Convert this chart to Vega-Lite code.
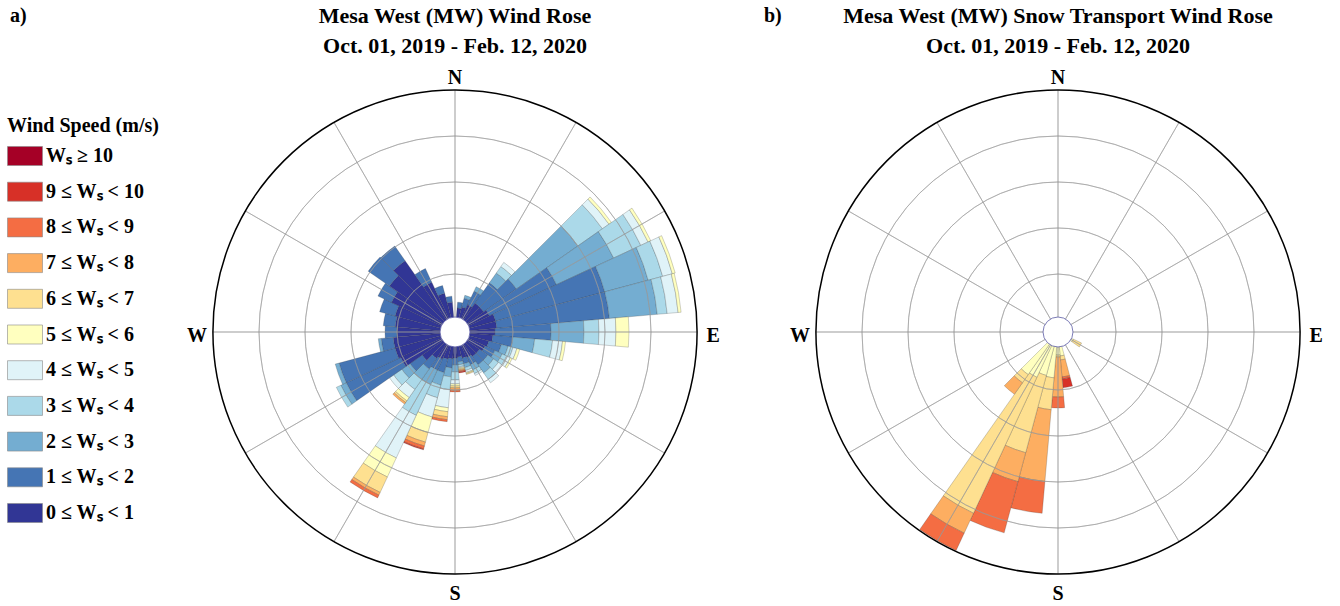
{
  "$schema": "https://vega.github.io/schema/vega-lite/v6.json",
  "padding": {"left": 7, "top": 5, "right": 5, "bottom": 5},
  "config": {
    "view": {"stroke": null},
    "font": "Liberation Serif",
    "title": {"font": "Liberation Serif", "fontSize": 22, "fontWeight": "bold", "color": "#000", "lineHeight": 30}
  },
  "datasets": {
    "rose": [
      {"d":0,"c":0,"f":0.304},{"d":0,"c":1,"f":0.109},
      {"d":10,"c":0,"f":0.261},{"d":10,"c":1,"f":0.130},
      {"d":20,"c":0,"f":0.304},{"d":20,"c":1,"f":0.196},{"d":20,"c":2,"f":0.065},
      {"d":30,"c":0,"f":0.391},{"d":30,"c":1,"f":0.326},{"d":30,"c":2,"f":0.109},
      {"d":40,"c":0,"f":0.5},{"d":40,"c":1,"f":0.543},{"d":40,"c":2,"f":0.261},{"d":40,"c":3,"f":0.174},{"d":40,"c":4,"f":0.109},
      {"d":50,"c":0,"f":0.5},{"d":50,"c":1,"f":0.87},{"d":50,"c":2,"f":1.63},{"d":50,"c":3,"f":0.652},{"d":50,"c":4,"f":0.174},{"d":50,"c":5,"f":0.065},
      {"d":60,"c":0,"f":0.565},{"d":60,"c":1,"f":1.609},{"d":60,"c":2,"f":1.37},{"d":60,"c":3,"f":0.652},{"d":60,"c":4,"f":0.174},{"d":60,"c":5,"f":0.065},
      {"d":70,"c":0,"f":0.652},{"d":70,"c":1,"f":2.457},{"d":70,"c":2,"f":0.978},{"d":70,"c":3,"f":0.326},{"d":70,"c":4,"f":0.217},{"d":70,"c":5,"f":0.065},
      {"d":80,"c":0,"f":0.652},{"d":80,"c":1,"f":2.457},{"d":80,"c":2,"f":1.043},{"d":80,"c":3,"f":0.217},{"d":80,"c":4,"f":0.239},{"d":80,"c":5,"f":0.065},
      {"d":90,"c":0,"f":0.609},{"d":90,"c":1,"f":1.217},{"d":90,"c":2,"f":0.717},{"d":90,"c":3,"f":0.326},{"d":90,"c":4,"f":0.37},{"d":90,"c":5,"f":0.283},
      {"d":100,"c":0,"f":0.565},{"d":100,"c":1,"f":0.435},{"d":100,"c":2,"f":0.478},{"d":100,"c":3,"f":0.391},{"d":100,"c":4,"f":0.217},{"d":100,"c":5,"f":0.065},
      {"d":110,"c":0,"f":0.5},{"d":110,"c":1,"f":0.283},{"d":110,"c":2,"f":0.152},{"d":110,"c":3,"f":0.109},{"d":110,"c":4,"f":0.087},{"d":110,"c":5,"f":0.065},
      {"d":120,"c":0,"f":0.457},{"d":120,"c":1,"f":0.239},{"d":120,"c":2,"f":0.174},{"d":120,"c":3,"f":0.109},{"d":120,"c":4,"f":0.087},{"d":120,"c":5,"f":0.043},
      {"d":130,"c":0,"f":0.391},{"d":130,"c":1,"f":0.217},{"d":130,"c":2,"f":0.152},{"d":130,"c":3,"f":0.13},{"d":130,"c":4,"f":0.087},
      {"d":140,"c":0,"f":0.391},{"d":140,"c":1,"f":0.217},{"d":140,"c":2,"f":0.217},{"d":140,"c":3,"f":0.174},{"d":140,"c":4,"f":0.087},
      {"d":150,"c":0,"f":0.348},{"d":150,"c":1,"f":0.174},{"d":150,"c":2,"f":0.13},{"d":150,"c":3,"f":0.087},{"d":150,"c":4,"f":0.043},
      {"d":160,"c":0,"f":0.326},{"d":160,"c":1,"f":0.13},{"d":160,"c":2,"f":0.087},{"d":160,"c":3,"f":0.065},{"d":160,"c":4,"f":0.043},{"d":160,"c":5,"f":0.022},{"d":160,"c":6,"f":0.022},
      {"d":170,"c":0,"f":0.283},{"d":170,"c":1,"f":0.109},{"d":170,"c":2,"f":0.065},{"d":170,"c":3,"f":0.043},{"d":170,"c":4,"f":0.022},{"d":170,"c":5,"f":0.022},{"d":170,"c":6,"f":0.022},{"d":170,"c":7,"f":0.022},{"d":170,"c":8,"f":0.022},{"d":170,"c":9,"f":0.022},
      {"d":180,"c":0,"f":0.304},{"d":180,"c":1,"f":0.152},{"d":180,"c":2,"f":0.152},{"d":180,"c":3,"f":0.174},{"d":180,"c":4,"f":0.087},{"d":180,"c":5,"f":0.043},{"d":180,"c":6,"f":0.043},{"d":180,"c":7,"f":0.054},{"d":180,"c":8,"f":0.033},
      {"d":190,"c":0,"f":0.326},{"d":190,"c":1,"f":0.196},{"d":190,"c":2,"f":0.196},{"d":190,"c":3,"f":0.283},{"d":190,"c":4,"f":0.391},{"d":190,"c":5,"f":0.087},{"d":190,"c":6,"f":0.109},{"d":190,"c":7,"f":0.065},{"d":190,"c":8,"f":0.043},
      {"d":200,"c":0,"f":0.348},{"d":200,"c":1,"f":0.304},{"d":200,"c":2,"f":0.283},{"d":200,"c":3,"f":0.283},{"d":200,"c":4,"f":0.435},{"d":200,"c":5,"f":0.348},{"d":200,"c":6,"f":0.217},{"d":200,"c":7,"f":0.087},{"d":200,"c":8,"f":0.065},{"d":200,"c":9,"f":0.022},
      {"d":210,"c":0,"f":0.391},{"d":210,"c":1,"f":0.261},{"d":210,"c":2,"f":0.348},{"d":210,"c":3,"f":0.739},{"d":210,"c":4,"f":1.022},{"d":210,"c":5,"f":0.457},{"d":210,"c":6,"f":0.37},{"d":210,"c":7,"f":0.065},{"d":210,"c":8,"f":0.065},
      {"d":220,"c":0,"f":0.435},{"d":220,"c":1,"f":0.283},{"d":220,"c":2,"f":0.283},{"d":220,"c":3,"f":0.261},{"d":220,"c":4,"f":0.217},{"d":220,"c":5,"f":0.087},{"d":220,"c":6,"f":0.043},{"d":220,"c":7,"f":0.043},
      {"d":230,"c":0,"f":0.609},{"d":230,"c":1,"f":0.326},{"d":230,"c":2,"f":0.217},{"d":230,"c":3,"f":0.217},{"d":230,"c":4,"f":0.109},
      {"d":240,"c":0,"f":1.043},{"d":240,"c":1,"f":1.304},{"d":240,"c":2,"f":0.13},{"d":240,"c":3,"f":0.109},
      {"d":250,"c":0,"f":1.087},{"d":250,"c":1,"f":1.261},{"d":250,"c":2,"f":0.087},
      {"d":260,"c":0,"f":1.087},{"d":260,"c":1,"f":0.261},{"d":260,"c":2,"f":0.065},
      {"d":270,"c":0,"f":1.0},{"d":270,"c":1,"f":0.261},
      {"d":280,"c":0,"f":1.043},{"d":280,"c":1,"f":0.261},
      {"d":290,"c":0,"f":1.087},{"d":290,"c":1,"f":0.348},
      {"d":300,"c":0,"f":1.261},{"d":300,"c":1,"f":0.326},
      {"d":310,"c":0,"f":1.478},{"d":310,"c":1,"f":0.565},
      {"d":320,"c":0,"f":1.63},{"d":320,"c":1,"f":0.391},
      {"d":330,"c":0,"f":0.935},{"d":330,"c":1,"f":0.326},
      {"d":340,"c":0,"f":0.609},{"d":340,"c":1,"f":0.174},
      {"d":350,"c":0,"f":0.391},{"d":350,"c":1,"f":0.13}
    ],
    "snow": [
      {"d":90,"c":5,"f":0.304},
      {"d":120,"c":5,"f":0.109},{"d":120,"c":6,"f":0.196},
      {"d":170,"c":5,"f":0.261},{"d":170,"c":6,"f":0.087},{"d":170,"c":7,"f":0.37},{"d":170,"c":8,"f":0.043},{"d":170,"c":9,"f":0.196},
      {"d":180,"c":5,"f":0.239},{"d":180,"c":6,"f":0.043},{"d":180,"c":7,"f":0.87},{"d":180,"c":8,"f":0.239},
      {"d":190,"c":5,"f":0.739},{"d":190,"c":6,"f":0.696},{"d":190,"c":7,"f":1.565},{"d":190,"c":8,"f":0.696},
      {"d":200,"c":5,"f":0.717},{"d":200,"c":6,"f":1.739},{"d":200,"c":7,"f":0.652},{"d":200,"c":8,"f":1.152},
      {"d":210,"c":5,"f":0.826},{"d":210,"c":6,"f":3.261},{"d":210,"c":7,"f":0.478},{"d":210,"c":8,"f":0.413},
      {"d":220,"c":5,"f":0.87},{"d":220,"c":6,"f":0.217},{"d":220,"c":7,"f":0.304}
    ],
    "rings": [{"ring":1},{"ring":2},{"ring":3},{"ring":4}],
    "spokes": [{"ang":0},{"ang":30},{"ang":60},{"ang":90},{"ang":120},{"ang":150},{"ang":180},{"ang":210},{"ang":240},{"ang":270},{"ang":300},{"ang":330}],
    "labels": [{"lab":"N","ang":0},{"lab":"E","ang":90},{"lab":"S","ang":180},{"lab":"W","ang":270}]
  },
  "resolve": {"scale": {"color": "independent"}, "legend": {"color": "independent"}},
  "spacing": 28,
  "hconcat": [
    {
      "title": {"text": "a)", "anchor": "start", "fontSize": 20, "offset": -21, "dx": 3},
      "hconcat": [
        {
          "width": 560,
          "height": 540,
          "title": {"text": ["Mesa West (MW) Wind Rose", "Oct. 01, 2019 - Feb. 12, 2020"], "frame": "group", "anchor": "middle", "offset": 4},
          "layer": [
            {
              "data": {"name": "rose"},
              "transform": [
                {"bin": {"step": 10, "anchor": -5}, "field": "d", "as": ["d0", "d1"]},
                {"stack": "f", "groupby": ["d"], "sort": [{"field": "c", "order": "ascending"}], "as": ["r0", "r1"]}
              ],
              "mark": {"type": "arc", "stroke": "#333", "strokeWidth": 0.5, "strokeOpacity": 0.45},
              "encoding": {
                "theta": {"field": "d0", "type": "quantitative", "stack": null, "scale": {"type": "linear", "domain": [0, 360], "range": [0, 6.283185307179586]}},
                "theta2": {"field": "d1"},
                "radius": {"field": "r1", "type": "quantitative", "stack": null, "scale": {"type": "linear", "domain": [0, 5], "range": [12, 242], "zero": false}},
                "radius2": {"field": "r0"},
                "color": {
                  "field": "c", "type": "nominal",
                  "scale": {"domain": [10, 9, 8, 7, 6, 5, 4, 3, 2, 1, 0], "range": ["#a50026", "#d73027", "#f46d43", "#fdae61", "#fee090", "#ffffbf", "#e0f3f8", "#abd9e9", "#74add1", "#4575b4", "#313695"]},
                  "legend": {
                    "orient": "none", "legendX": -168, "legendY": 54,
                    "title": "Wind Speed (m/s)",
                    "titleFont": "Liberation Serif", "titleFontSize": 20, "titleFontWeight": "bold", "titleColor": "#000", "titlePadding": 2,
                    "labelFont": "Liberation Serif", "labelFontSize": 20, "labelFontWeight": "bold", "labelColor": "#000", "labelLimit": 300, "labelOffset": 3,
                    "labelExpr": "datum.value == 10 ? 'Wₛ ≥ 10' : datum.value + ' ≤ Wₛ < ' + (datum.value + 1)",
                    "symbolType": "M-1,-0.543H1V0.543H-1Z", "symbolSize": 1225, "symbolStrokeColor": "#888", "symbolStrokeWidth": 0.6,
                    "rowPadding": 6.7, "padding": 0
                  }
                }
              }
            },
            {
              "data": {"name": "rings"},
              "mark": {"type": "arc", "filled": false, "stroke": "#999", "strokeWidth": 0.8, "strokeOpacity": 0.7},
              "encoding": {
                "theta": {"datum": 0}, "theta2": {"datum": 360},
                "radius": {"field": "ring", "type": "quantitative"}, "radius2": {"field": "ring"}
              }
            },
            {
              "data": {"name": "spokes"},
              "mark": {"type": "arc", "filled": false, "stroke": "#999", "strokeWidth": 0.8, "strokeOpacity": 0.7},
              "encoding": {
                "theta": {"field": "ang", "type": "quantitative"}, "theta2": {"field": "ang"},
                "radius": {"datum": 5}, "radius2": {"datum": 0}
              }
            },
            {
              "data": {"values": [{}]},
              "mark": {"type": "arc", "fill": "#fff", "stroke": "#5a5aa5", "strokeWidth": 0.8},
              "encoding": {
                "theta": {"datum": 0}, "theta2": {"datum": 360},
                "radius": {"datum": 0.065}, "radius2": {"datum": -0.26087}
              }
            },
            {
              "data": {"values": [{}]},
              "mark": {"type": "arc", "filled": false, "stroke": "#000", "strokeWidth": 1.5},
              "encoding": {
                "theta": {"datum": 0}, "theta2": {"datum": 360},
                "radius": {"datum": 5}, "radius2": {"datum": 5}
              }
            },
            {
              "data": {"name": "labels"},
              "mark": {"type": "text", "font": "Liberation Serif", "fontSize": 20, "fontWeight": "bold", "align": "center", "baseline": "middle", "dy": 4, "color": "#000"},
              "encoding": {
                "theta": {"field": "ang", "type": "quantitative"},
                "radius": {"datum": 5.35},
                "text": {"field": "lab"}
              }
            }
          ]
        }
      ]
    },
    {
      "title": {"text": "b)", "anchor": "start", "fontSize": 20, "offset": -21, "dx": -26},
      "hconcat": [
        {
          "width": 520,
          "height": 540,
          "title": {"text": ["Mesa West (MW) Snow Transport Wind Rose", "Oct. 01, 2019 - Feb. 12, 2020"], "frame": "group", "anchor": "middle", "offset": 4},
          "layer": [
            {
              "data": {"name": "snow"},
              "transform": [
                {"bin": {"step": 10, "anchor": -5}, "field": "d", "as": ["d0", "d1"]},
                {"stack": "f", "groupby": ["d"], "sort": [{"field": "c", "order": "ascending"}], "as": ["r0", "r1"]}
              ],
              "mark": {"type": "arc", "stroke": "#333", "strokeWidth": 0.5, "strokeOpacity": 0.45},
              "encoding": {
                "theta": {"field": "d0", "type": "quantitative", "stack": null, "scale": {"type": "linear", "domain": [0, 360], "range": [0, 6.283185307179586]}},
                "theta2": {"field": "d1"},
                "radius": {"field": "r1", "type": "quantitative", "stack": null, "scale": {"type": "linear", "domain": [0, 5], "range": [12, 242], "zero": false}},
                "radius2": {"field": "r0"},
                "color": {
                  "field": "c", "type": "nominal",
                  "scale": {"domain": [10, 9, 8, 7, 6, 5, 4, 3, 2, 1, 0], "range": ["#a50026", "#d73027", "#f46d43", "#fdae61", "#fee090", "#ffffbf", "#e0f3f8", "#abd9e9", "#74add1", "#4575b4", "#313695"]},
                  "legend": null
                }
              }
            },
            {
              "data": {"name": "rings"},
              "mark": {"type": "arc", "filled": false, "stroke": "#999", "strokeWidth": 0.8, "strokeOpacity": 0.7},
              "encoding": {
                "theta": {"datum": 0}, "theta2": {"datum": 360},
                "radius": {"field": "ring", "type": "quantitative"}, "radius2": {"field": "ring"}
              }
            },
            {
              "data": {"name": "spokes"},
              "mark": {"type": "arc", "filled": false, "stroke": "#999", "strokeWidth": 0.8, "strokeOpacity": 0.7},
              "encoding": {
                "theta": {"field": "ang", "type": "quantitative"}, "theta2": {"field": "ang"},
                "radius": {"datum": 5}, "radius2": {"datum": 0}
              }
            },
            {
              "data": {"values": [{}]},
              "mark": {"type": "arc", "fill": "#fff", "stroke": "#5a5aa5", "strokeWidth": 0.8},
              "encoding": {
                "theta": {"datum": 0}, "theta2": {"datum": 360},
                "radius": {"datum": 0.065}, "radius2": {"datum": -0.26087}
              }
            },
            {
              "data": {"values": [{}]},
              "mark": {"type": "arc", "filled": false, "stroke": "#000", "strokeWidth": 1.5},
              "encoding": {
                "theta": {"datum": 0}, "theta2": {"datum": 360},
                "radius": {"datum": 5}, "radius2": {"datum": 5}
              }
            },
            {
              "data": {"name": "labels"},
              "mark": {"type": "text", "font": "Liberation Serif", "fontSize": 20, "fontWeight": "bold", "align": "center", "baseline": "middle", "dy": 4, "color": "#000"},
              "encoding": {
                "theta": {"field": "ang", "type": "quantitative"},
                "radius": {"datum": 5.35},
                "text": {"field": "lab"}
              }
            }
          ]
        }
      ]
    }
  ]
}
